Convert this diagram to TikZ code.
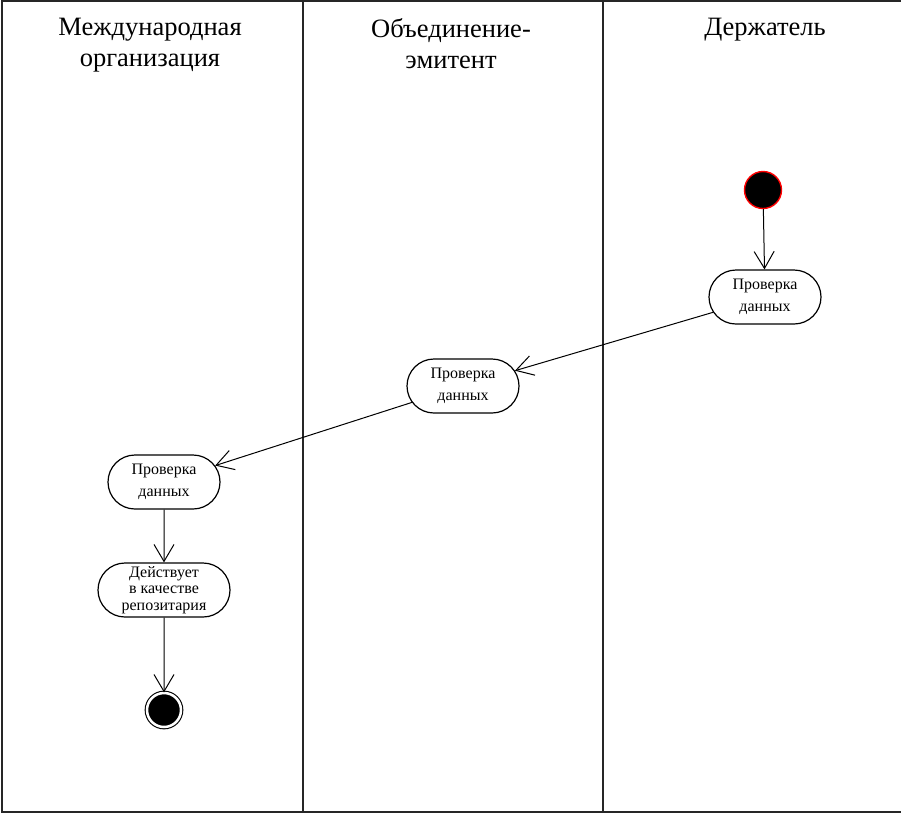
\documentclass[tikz,border=0pt]{standalone}
\usepackage{fontspec}
\setmainfont{Liberation Serif}
\usetikzlibrary{arrows.meta, shapes.misc}

\begin{document}
\begin{tikzpicture}[x=1pt, y=-1pt,
  lane/.style={line width=1.5pt, black!85},
  lanehead/.style={anchor=north, align=center, inner sep=0pt, font=\fontsize{26.5}{31}\selectfont},
  act/.style={draw, line width=1.2pt, rounded rectangle, minimum width=116pt, minimum height=54pt, inner sep=2pt, align=center, font=\fontsize{16}{22}\selectfont},
  flow/.style={-{Straight Barb[length=17pt, width=20pt]}, line width=1pt}]
  \def \xa{2}
  \def \xb{303}
  \def \xc{603}
  \def \ybot{812}
  \useasboundingbox (0,0) rectangle (901,815);

  % swimlanes
  \draw[lane] (901,1) -- (\xa,1) -- (\xa,\ybot) -- (901,\ybot);
  \draw[lane] (\xb,1) -- (\xb,\ybot);
  \draw[lane] (\xc,1) -- (\xc,\ybot);

  \node[lanehead] (org) at (150,18) {Международная\\организация};
  \node[lanehead] (emit) at (451,18) {Объединение-\\эмитент};
  \node[lanehead] (hold) at (765,18) {Держатель};

  % activities
  \node[circle, fill=black, draw=red, line width=1.4pt, minimum size=37pt, inner sep=0pt] (start) at (763,190) {};
  \node[act] (chk1) at (765,297) {Проверка\\данных};
  \node[act] (chk2) at (463,386) {Проверка\\данных};
  \node[act] (chk3) at (164,482) {Проверка\\данных};
  \node[act, minimum width=136pt, font=\fontsize{16}{16.5}\selectfont] (repo) at (164,590) {Действует\\в качестве\\репозитария};
  \node[circle, fill=black, draw, line width=1.1pt, double=white, double distance=2.5pt, minimum size=34pt, inner sep=0pt] (stop) at (164,710) {};

  \draw[flow] (start) -- (chk1);
  \draw[flow] (chk1) -- (chk2);
  \draw[flow] (chk2) -- (chk3);
  \draw[flow] (chk3) -- (repo);
  \draw[flow] (repo) -- (stop);
\end{tikzpicture}
\end{document}
